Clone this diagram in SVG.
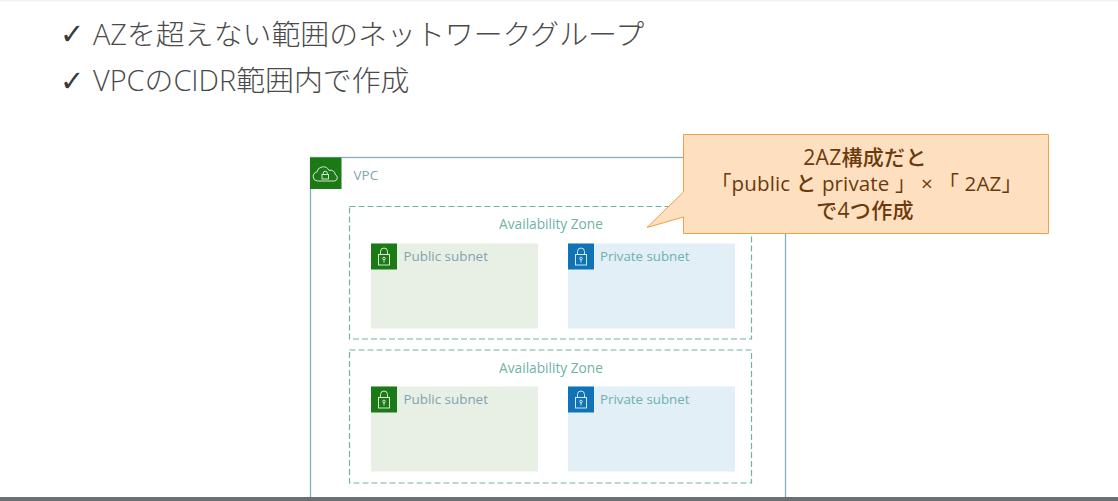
<svg xmlns="http://www.w3.org/2000/svg" width="1118" height="501" viewBox="0 0 1118 501">
<style>
text{font-family:"Open Sans","Noto Sans CJK JP",sans-serif}
.h{font-size:28.900px;fill:#4a4a4a;font-weight:300}
.c{font-family:"DejaVu Sans",sans-serif;font-size:29px;font-weight:700;fill:#3a3a3a}
.az{fill:none;stroke:#6fb3a8;stroke-width:1.2;stroke-dasharray:6 3}
.azt{font-size:13.7px;fill:#6fb3a6;text-anchor:middle}
.st{font-size:13.4px;fill:#83a3ae}
.st2{font-size:13.3px;fill:#6fb0b0}
.pub{fill:#e8f0e6}
.pri{fill:#e2eff7}
.ic{fill:none;stroke:#fff;stroke-width:.9;opacity:.9}
.co{font-size:21px;letter-spacing:.3px;font-weight:500;fill:#6b3a0c;text-anchor:middle}
.co2{font-size:20.500px;letter-spacing:.15px;font-weight:400;fill:#6b3a0c;text-anchor:middle}
</style>
<defs>
<g id="lock"><rect x="0" y="0" width="26" height="26"/><g class="ic"><rect x="7.500" y="11" width="11" height="10.500"/><path d="M9.500 11V8a3.500 3.500 0 0 1 7 0v3"/><circle cx="13" cy="15" r="1.300"/><path d="M13 16.300v2.700"/></g></g>
</defs>
<rect width="1118" height="501" fill="#fff"/>
<rect width="1118" height="1.500" fill="#eef4f4"/>
<g id="heading">
<text class="c" x="60" y="44">✓</text>
<text class="h" x="93" y="45">AZを超えない範囲のネットワークグループ</text>
<text class="c" x="60" y="91">✓</text>
<text class="h" x="93" y="91">VPCのCIDR範囲内で作成</text>
</g>
<g id="vpc">
<rect x="310.500" y="157.500" width="475" height="345" fill="#fff" stroke="#84adbf" stroke-width="1.300"/>
<rect x="310" y="157.500" width="31.500" height="31.500" fill="#1b7a16"/>
<path class="ic" d="M320 181h-2.500a4.500 4.500 0 0 1-.7-8.900 6.500 6.500 0 0 1 12.200-1.700 4.800 4.800 0 0 1 6.300 4.300 3.300 3.300 0 0 1-.8 6.300H320z"/>
<rect class="ic" x="322" y="174.500" width="6.500" height="4.500"/>
<path class="ic" d="M323.300 174.500v-1.300a2 2 0 0 1 4 0v1.300"/>
<text x="353.500" y="179.500" font-size="13.500" fill="#83a3ae">VPC</text>
</g>
<g id="az1">
<rect class="az" x="349.500" y="206.500" width="402" height="132.500"/>
<text class="azt" x="551" y="228.500">Availability Zone</text>
</g>
<g id="az1-public">
<rect class="pub" x="371" y="243.500" width="167" height="85"/>
<use href="#lock" x="371" y="243.500" fill="#1b7a16"/>
<text class="st" x="403.500" y="261">Public subnet</text>
</g>
<g id="az1-private">
<rect class="pri" x="568" y="243.500" width="167" height="85"/>
<use href="#lock" x="568" y="243.500" fill="#0f73b5"/>
<text class="st2" x="600" y="261">Private subnet</text>
</g>
<g id="az2">
<rect class="az" x="349.500" y="350" width="402" height="133"/>
<text class="azt" x="551" y="372.500">Availability Zone</text>
</g>
<g id="az2-public">
<rect class="pub" x="371" y="386.500" width="167" height="85"/>
<use href="#lock" x="371" y="386.500" fill="#1b7a16"/>
<text class="st" x="403.500" y="404">Public subnet</text>
</g>
<g id="az2-private">
<rect class="pri" x="568" y="386.500" width="167" height="85"/>
<use href="#lock" x="568" y="386.500" fill="#0f73b5"/>
<text class="st2" x="600" y="404">Private subnet</text>
</g>
<g id="callout">
<path d="M683.500 134.500H1048.500V233.500H683.500V217L647 227.500L683.500 192Z" fill="#fedfc0" stroke="#f0a040" stroke-width="1"/>
<text class="co" x="865" y="164.500">2AZ構成だと</text>
<text class="co2" x="866.500" y="190.500" xml:space="preserve">「public <tspan font-weight="500">と</tspan> private 」 × 「 2AZ」</text>
<text class="co" x="865" y="217.500">で4つ作成</text>
</g>
<rect id="bottom-bar" y="497" width="1118" height="4" fill="#6b6f72"/>
</svg>
